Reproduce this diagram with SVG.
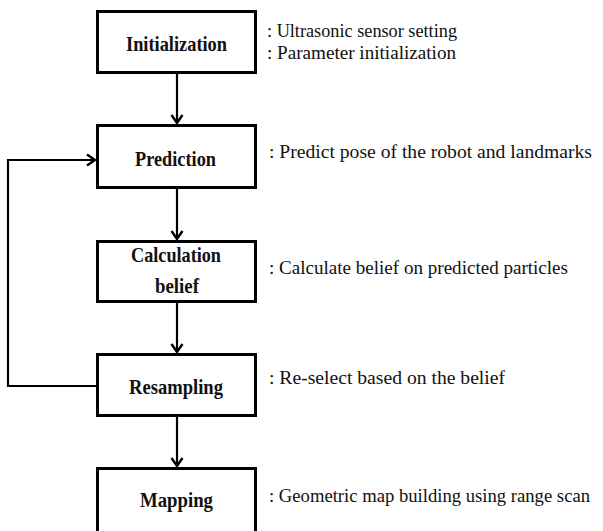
<svg xmlns="http://www.w3.org/2000/svg" width="603" height="531" viewBox="0 0 603 531">
<style>
.box{fill:#fff;stroke:#000;stroke-width:3}
.lbl{font-weight:bold;font-size:22px;fill:#111}
.ann{font-size:19.5px;fill:#111}
.con{fill:none;stroke:#000;stroke-width:2.2}
</style>
<defs>
<marker id="ah" markerUnits="userSpaceOnUse" markerWidth="14" markerHeight="14" viewBox="0 0 14 14" refX="12" refY="7" orient="auto">
<path d="M4,1.5 L12,7 L4,12.5" fill="none" stroke="#000" stroke-width="2.4"/>
</marker>
</defs>
<rect width="603" height="531" fill="#fff"/>
<g id="connectors">
<line class="con" x1="177" y1="74" x2="177" y2="123" marker-end="url(#ah)"/>
<line class="con" x1="177" y1="189" x2="177" y2="239" marker-end="url(#ah)"/>
<line class="con" x1="177" y1="303" x2="177" y2="352" marker-end="url(#ah)"/>
<line class="con" x1="177" y1="417" x2="177" y2="466" marker-end="url(#ah)"/>
<polyline class="con" points="96,386 8,386 8,160 95,160" marker-end="url(#ah)"/>
</g>
<g font-family="Liberation Serif, DejaVu Serif, serif">
<g id="initialization">
<rect class="box" x="97.5" y="11.5" width="158" height="61"/>
<text class="lbl" x="126" y="51" textLength="101" lengthAdjust="spacingAndGlyphs">Initialization</text>
<text class="ann" x="267" y="37" textLength="190" lengthAdjust="spacingAndGlyphs">: Ultrasonic sensor setting</text>
<text class="ann" x="267" y="59" textLength="189" lengthAdjust="spacingAndGlyphs">: Parameter initialization</text>
</g>
<g id="prediction">
<rect class="box" x="97.5" y="125.5" width="158" height="62"/>
<text class="lbl" x="135" y="166" textLength="81" lengthAdjust="spacingAndGlyphs">Prediction</text>
<text class="ann" x="269" y="158" textLength="323" lengthAdjust="spacingAndGlyphs">: Predict pose of the robot and landmarks</text>
</g>
<g id="calculation-belief">
<rect class="box" x="97.5" y="241.5" width="158" height="60"/>
<text class="lbl" x="131" y="262" textLength="90" lengthAdjust="spacingAndGlyphs">Calculation</text>
<text class="lbl" x="155" y="293" textLength="44" lengthAdjust="spacingAndGlyphs">belief</text>
<text class="ann" x="269" y="274" textLength="299" lengthAdjust="spacingAndGlyphs">: Calculate belief on predicted particles</text>
</g>
<g id="resampling">
<rect class="box" x="97.5" y="354.5" width="158" height="61"/>
<text class="lbl" x="129" y="394" textLength="94" lengthAdjust="spacingAndGlyphs">Resampling</text>
<text class="ann" x="269" y="384" textLength="236" lengthAdjust="spacingAndGlyphs">: Re-select based on the belief</text>
</g>
<g id="mapping">
<rect class="box" x="97.5" y="468.5" width="158" height="70"/>
<text class="lbl" x="140" y="507" textLength="73" lengthAdjust="spacingAndGlyphs">Mapping</text>
<text class="ann" x="269" y="502" textLength="321" lengthAdjust="spacingAndGlyphs">: Geometric map building using range scan</text>
</g>
</g>
</svg>
